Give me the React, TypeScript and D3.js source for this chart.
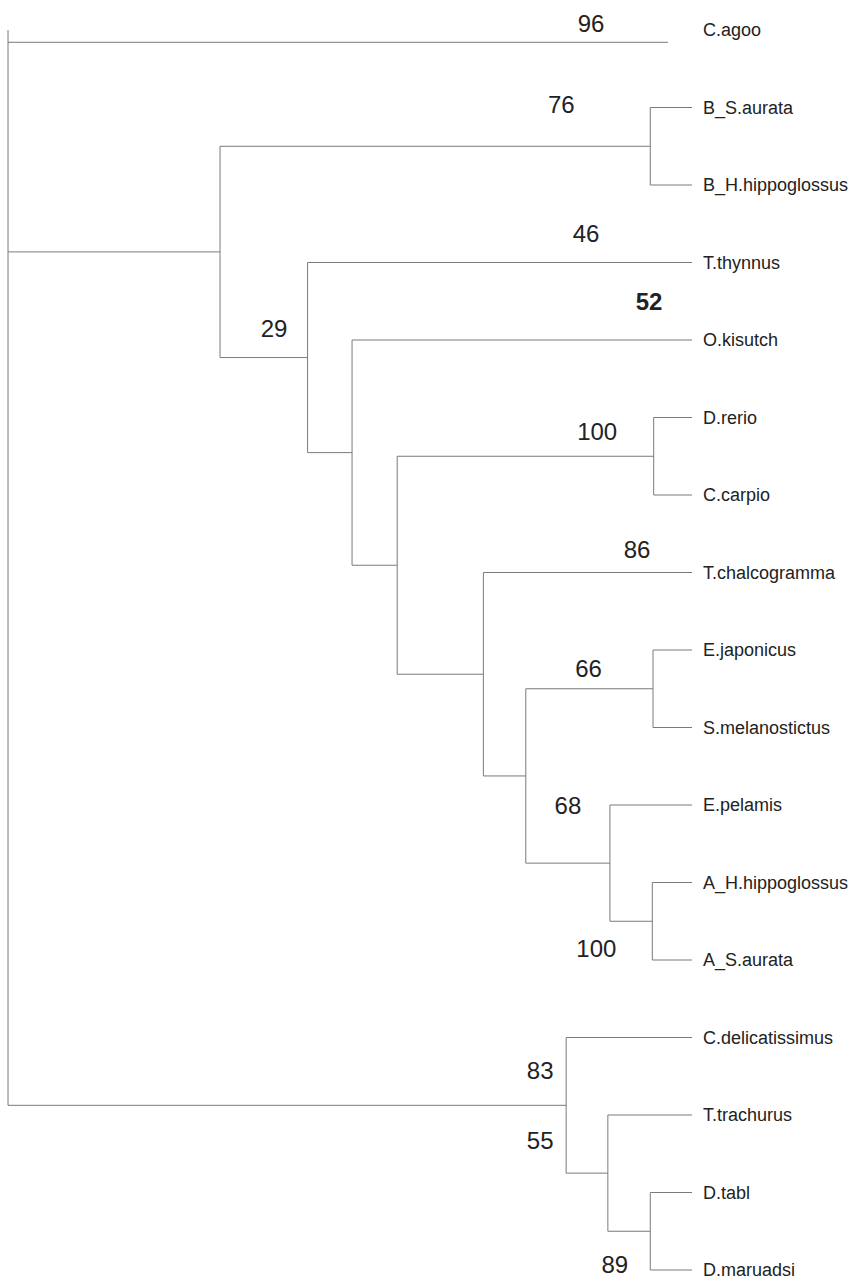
import React, { useEffect, useMemo } from 'react';
import * as d3 from 'd3';

const width = 852;
const height = 1281;

// leaf order, top to bottom
const taxa = [
  'C.agoo',
  'B_S.aurata',
  'B_H.hippoglossus',
  'T.thynnus',
  'O.kisutch',
  'D.rerio',
  'C.carpio',
  'T.chalcogramma',
  'E.japonicus',
  'S.melanostictus',
  'E.pelamis',
  'A_H.hippoglossus',
  'A_S.aurata',
  'C.delicatissimus',
  'T.trachurus',
  'D.tabl',
  'D.maruadsi',
];

// internal nodes of the cladogram and their depth (0 = root, 100 = tips)
const cladeIds = ['root', 'nA', 'nB', 'nC', 'nD', 'nE', 'nF', 'nG', 'pB', 'pDC', 'pEJ', 'pA', 'nH', 'nI', 'pD'];
const cladeChildren = [
  ['C.agoo', 'nA', 'nH'],
  ['pB', 'nB'],
  ['T.thynnus', 'nC'],
  ['O.kisutch', 'nD'],
  ['pDC', 'nE'],
  ['T.chalcogramma', 'nF'],
  ['pEJ', 'nG'],
  ['E.pelamis', 'pA'],
  ['B_S.aurata', 'B_H.hippoglossus'],
  ['D.rerio', 'C.carpio'],
  ['E.japonicus', 'S.melanostictus'],
  ['A_H.hippoglossus', 'A_S.aurata'],
  ['C.delicatissimus', 'nI'],
  ['T.trachurus', 'pD'],
  ['D.tabl', 'D.maruadsi'],
];
const cladeDepth = [0, 31, 43.8, 50.3, 56.9, 69.5, 75.7, 88, 93.9, 94.4, 94.3, 94.2, 81.6, 87.7, 93.9];

// C.agoo branch stops short of the other tips
const shortTips = ['C.agoo'];
const shortTipDepth = [96.5];

// bootstrap support values
const supportValues = [96, 76, 46, 52, 29, 100, 86, 66, 68, 100, 83, 55, 89];
const supportAnchors = ['C.agoo', 'pB', 'T.thynnus', 'O.kisutch', 'nB', 'pDC', 'T.chalcogramma', 'pEJ', 'nG', 'pA', 'nH', 'nH', 'pD'];
const supportBold = [false, false, false, true, false, false, false, false, false, false, false, false, false];
// label placement relative to anchor node (layout only)
const supportOffsets = [
  [-77, 1.7], [-89, -33], [-106, -20.5], [-43, -30], [-33.6, -20.6], [-56.5, -16],
  [-55, -14.5], [-64.5, -11.75], [-42, -49], [-56, 35.75], [-26, -26], [-26, 43.7], [-35.5, 41.75],
];

const agooLineShift = 12.3;
const lineColor = '#7a7a7a';
const textColor = '#222';
const font = '"Liberation Sans", Arial, sans-serif';

type TreeNode = { id: string; children?: TreeNode[] };

function buildTree(id: string): TreeNode {
  const i = cladeIds.indexOf(id);
  if (i < 0) return { id };
  return { id, children: cladeChildren[i].map(buildTree) };
}

export default function App() {
  useEffect(() => {
    document.body.style.margin = '0';
    document.body.style.background = '#fff';
  }, []);

  const layout = useMemo(() => {
    const x = d3.scaleLinear().domain([0, 100]).range([8, 692]);
    const y = d3.scalePoint<string>().domain(taxa).range([30, 1270]);

    const root = d3.hierarchy<TreeNode>(buildTree('root'));
    const pos = new Map<string, { x: number; y: number }>();
    root.eachAfter((n) => {
      let depth: number;
      let yy: number;
      if (n.children) {
        depth = cladeDepth[cladeIds.indexOf(n.data.id)];
        const first = pos.get(n.children[0].data.id)!;
        const last = pos.get(n.children[n.children.length - 1].data.id)!;
        yy = (first.y + last.y) / 2;
      } else {
        const s = shortTips.indexOf(n.data.id);
        depth = s >= 0 ? shortTipDepth[s] : 100;
        yy = y(n.data.id)!;
      }
      pos.set(n.data.id, { x: x(depth), y: yy });
    });

    const segments: { x1: number; y1: number; x2: number; y2: number }[] = [];
    root.each((n) => {
      if (!n.children) return;
      const p = pos.get(n.data.id)!;
      const first = pos.get(n.children[0].data.id)!;
      const last = pos.get(n.children[n.children.length - 1].data.id)!;
      segments.push({ x1: p.x, y1: first.y, x2: p.x, y2: last.y });
      n.children.forEach((c) => {
        const cp = pos.get(c.data.id)!;
        const cy = c.data.id === 'C.agoo' ? cp.y + agooLineShift : cp.y;
        segments.push({ x1: p.x, y1: cy, x2: cp.x, y2: cy });
      });
    });

    return { x, y, pos, segments };
  }, []);

  const { x, y, pos, segments } = layout;
  const labelX = x(100) + 11;

  return (
    <svg width={width} height={height} style={{ display: 'block', background: '#fff' }}>
      <g stroke={lineColor} strokeWidth={1} fill="none">
        {segments.map((s, i) => (
          <line key={i} x1={s.x1} y1={s.y1} x2={s.x2} y2={s.y2} />
        ))}
      </g>
      <g fontFamily={font} fontSize={18} fill={textColor}>
        {taxa.map((t) => (
          <text key={t} x={labelX} y={y(t)} dy="0.36em">
            {t}
          </text>
        ))}
      </g>
      <g fontFamily={font} fontSize={24} fill={textColor} textAnchor="middle">
        {supportValues.map((v, i) => {
          const a = pos.get(supportAnchors[i])!;
          return (
            <text
              key={i}
              x={a.x + supportOffsets[i][0]}
              y={a.y + supportOffsets[i][1]}
              fontWeight={supportBold[i] ? 'bold' : 'normal'}
            >
              {v}
            </text>
          );
        })}
      </g>
    </svg>
  );
}
